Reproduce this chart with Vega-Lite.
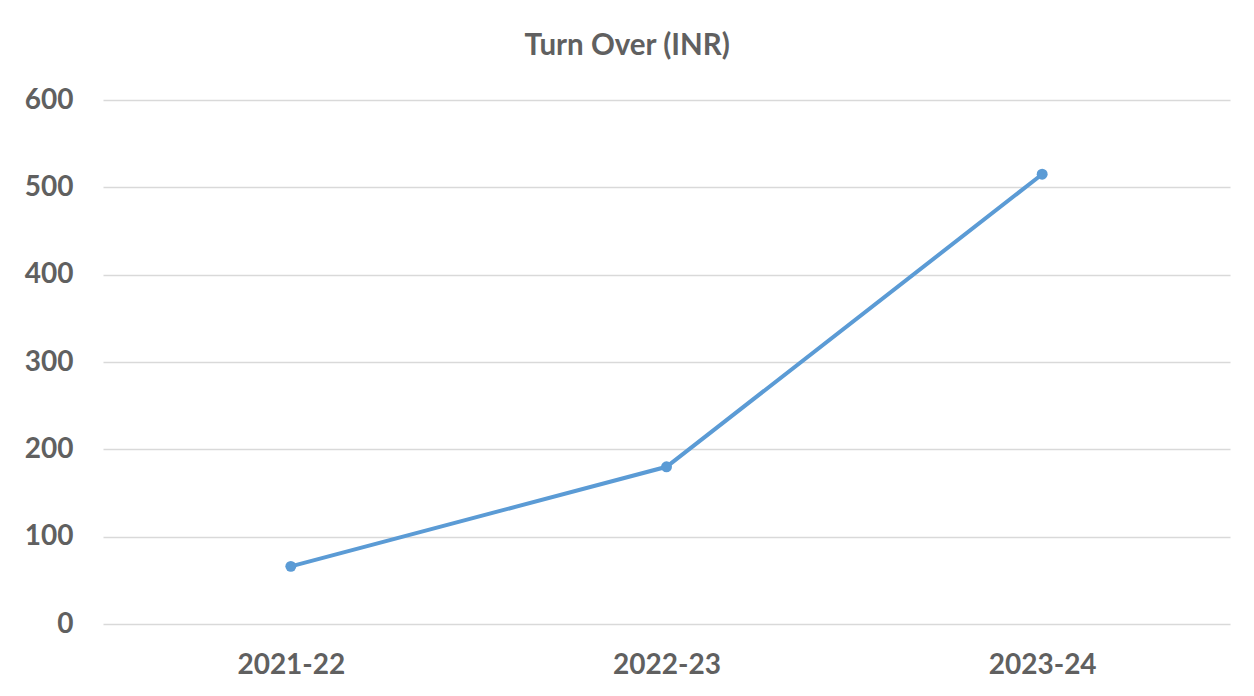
{
  "$schema": "https://vega.github.io/schema/vega-lite/v6.json",
  "width": 1127,
  "height": 524,
  "autosize": {"type": "none"},
  "padding": {"left": 103, "top": 100, "right": 24, "bottom": 72},
  "background": "white",
  "title": {
    "text": "Turn Over (INR)",
    "font": "Lato",
    "fontSize": 29.5,
    "fontWeight": "bold",
    "color": "#606060",
    "anchor": "middle",
    "frame": "bounds",
    "offset": 25
  },
  "data": {
    "values": [
      {"year": "2021-22", "turnover": 66},
      {"year": "2022-23", "turnover": 180},
      {"year": "2023-24", "turnover": 515}
    ]
  },
  "config": {
    "view": {"stroke": null},
    "axis": {
      "labelFont": "Lato",
      "labelFontWeight": "bold",
      "labelColor": "#606060",
      "labelFontSize": 28,
      "ticks": false,
      "domain": false,
      "title": null
    }
  },
  "mark": {
    "type": "line",
    "color": "#5B9BD5",
    "strokeWidth": 4,
    "point": {"filled": true, "size": 120, "color": "#5B9BD5"}
  },
  "encoding": {
    "x": {
      "field": "year",
      "type": "ordinal",
      "scale": {"paddingInner": 0, "paddingOuter": 0},
      "axis": {"labelAngle": 0, "grid": false, "labelPadding": 27}
    },
    "y": {
      "field": "turnover",
      "type": "quantitative",
      "scale": {"domain": [0, 600]},
      "axis": {
        "values": [0, 100, 200, 300, 400, 500, 600],
        "grid": true,
        "gridColor": "#d9d9d9",
        "gridWidth": 1.5,
        "labelPadding": 30
      }
    }
  }
}
